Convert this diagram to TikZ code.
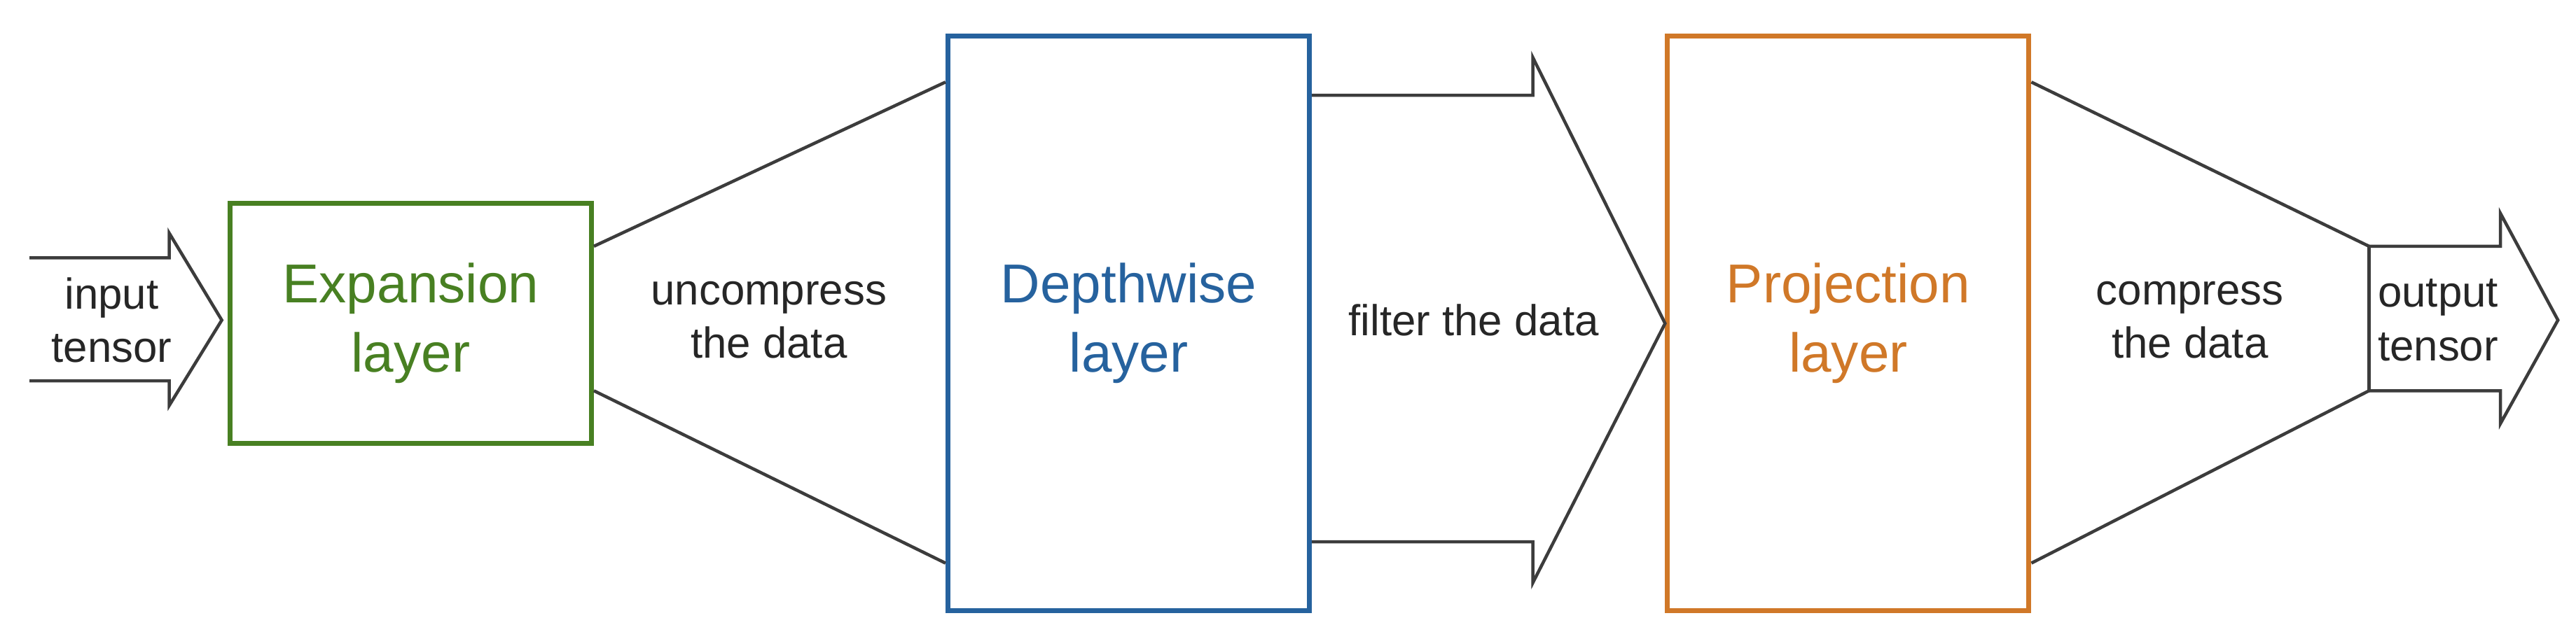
\documentclass[tikz,border=0pt]{standalone}
\usepackage{fontspec}
\setmainfont{Liberation Sans}
\definecolor{expgreen}{RGB}{72,128,34}
\definecolor{dwblue}{RGB}{38,98,158}
\definecolor{projorange}{RGB}{208,120,40}
\definecolor{edgegray}{RGB}{60,60,60}
\tikzset{
  layer/.style={draw=#1, text=#1, line width=1.7pt, align=center,
    font=\fontsize{19}{24}\selectfont, inner sep=0pt},
  label/.style={align=center, text=black!85, font=\fontsize{15}{18.5}\selectfont},
  outline/.style={draw=edgegray, line width=1.1pt, line join=miter}
}
\begin{document}
\begin{tikzpicture}[x=0.02cm, y=-0.02cm]
\useasboundingbox (0,0) rectangle (1568,389);

% layers
\node[layer=expgreen, minimum width=220*0.02cm, minimum height=146*0.02cm]
  (exp) at (250,197) {Expansion\\layer};
\node[layer=dwblue, minimum width=220*0.02cm, minimum height=350*0.02cm]
  (dw) at (687,197) {Depthwise\\layer};
\node[layer=projorange, minimum width=220*0.02cm, minimum height=350*0.02cm]
  (proj) at (1125,197) {Projection\\layer};

% input arrow
\draw[outline] (18,157) -- (103,157) -- (103,142) -- (135,195)
  -- (103,247) -- (103,232) -- (18,232);
\node[label] (in) at (68,195) {input\\tensor};

% uncompress
\draw[outline] (exp.east |- 0,150) -- (dw.west |- 0,50);
\draw[outline] (exp.east |- 0,238) -- (dw.west |- 0,343);
\node[label] (unc) at (468,195) {uncompress\\the data};

% filter arrow
\draw[outline] (dw.east |- 0,58) -- (933,58) -- (933,35) -- (proj.west)
  -- (933,355) -- (933,330) -- (dw.east |- 0,330);
\node[label] (filt) at (897,195) {filter the data};

% compress
\coordinate (outtop) at (1442,150);
\coordinate (outbot) at (1442,238);
\draw[outline] (proj.east |- 0,50) -- (outtop);
\draw[outline] (proj.east |- 0,343) -- (outbot);
\node[label] (comp) at (1333,195) {compress\\the data};

% output arrow
\draw[outline] (outbot) -- (outtop) -- (1522,150) -- (1522,130) -- (1557,195)
  -- (1522,258) -- (1522,238) -- cycle;
\node[label] (out) at (1484,195) {output\\tensor};
\end{tikzpicture}
\end{document}
